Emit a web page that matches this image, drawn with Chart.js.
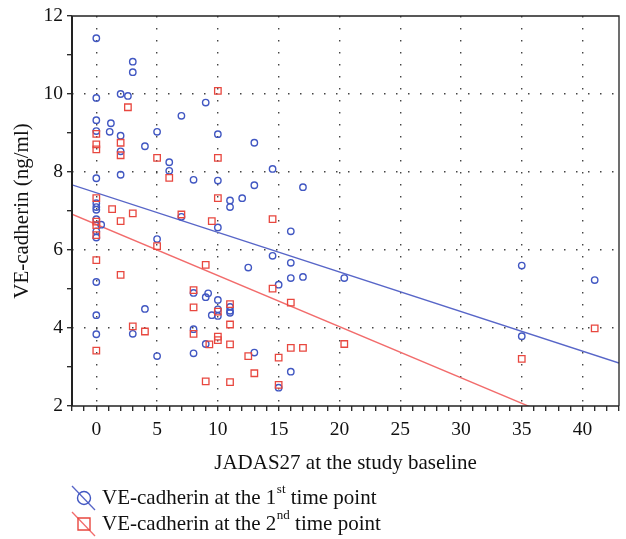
<!DOCTYPE html>
<html>
<head>
<meta charset="utf-8">
<script src="https://cdn.jsdelivr.net/npm/chart.js@4.4.0/dist/chart.umd.min.js"></script>
<style>
  html, body { margin: 0; padding: 0; background: #fff; }
  #wrap { width: 626px; height: 539px; }
</style>
</head>
<body>
<div id="wrap"><canvas id="chart" width="626" height="539"></canvas></div>
<script>
// VE-cadherin at the 1st time point (blue circles)
const t1X = [0, 0, 0, 0, 0, 0, 0, 0, 0, 0, 0, 0, 0, 0,
  0.4, 1.1, 1.2, 2, 2, 2, 2, 2.6, 3, 3, 3, 4, 4, 5, 5, 5, 6, 6, 7, 7,
  8, 8, 8, 8, 9, 9, 9, 9.2, 9.5, 10, 10, 10, 10, 10, 10, 11, 11, 11, 11, 11,
  12, 12.5, 13, 13, 13, 14.5, 14.5, 15, 15, 16, 16, 16, 16, 17, 17, 20.4, 35, 35, 41];
const t1Y = [11.43, 9.90, 9.33, 9.05, 7.84, 7.20, 7.10, 7.03, 6.79, 6.48, 6.32, 5.18, 4.33, 3.84,
  6.65, 9.03, 9.25, 10.0, 8.93, 8.53, 7.93, 9.95, 10.83, 10.56, 3.85, 8.66, 4.49, 9.03, 6.28, 3.28, 8.25, 8.03, 9.44, 6.85,
  7.80, 4.90, 3.97, 3.35, 9.78, 4.79, 3.59, 4.89, 4.33, 8.97, 7.78, 6.58, 4.72, 4.48, 4.31, 7.27, 7.10, 4.54, 4.44, 4.39,
  7.33, 5.55, 8.75, 7.66, 3.37, 8.08, 5.85, 5.11, 2.47, 6.48, 5.67, 5.28, 2.88, 7.61, 5.31, 5.28, 5.60, 3.79, 5.23];

// VE-cadherin at the 2nd time point (red squares)
const t2X = [0, 0, 0, 0, 0, 0, 0, 0, 0,
  1.3, 2, 2, 2, 2, 2.6, 3, 3, 4, 5, 5, 6, 7, 8, 8, 8, 9, 9, 9.3, 9.5,
  10, 10, 10, 10, 10, 10, 11, 11, 11, 11, 12.5, 13, 14.5, 14.5, 15, 15, 16, 16, 17, 20.4, 35, 41];
const t2Y = [8.98, 8.71, 8.58, 7.33, 6.73, 6.64, 6.38, 5.74, 3.42,
  7.05, 8.75, 8.43, 6.74, 5.36, 9.66, 6.94, 4.04, 3.91, 8.36, 6.10, 7.85, 6.91, 4.97, 4.53, 3.85, 5.62, 2.63, 3.58, 6.74,
  10.08, 8.36, 7.33, 4.42, 3.78, 3.69, 4.61, 4.09, 3.58, 2.61, 3.28, 2.84, 6.79, 5.01, 3.24, 2.54, 4.65, 3.49, 3.49, 3.59, 3.21, 3.99];

// fitted lines, end points
const fit1X = [-2, 43];
const fit1Y = [7.67, 3.10];
const fit2X = [-2, 43];
const fit2Y = [6.92, 1.02];

const legendLabels = [
  ['VE-cadherin at the 1', 'st', ' time point'],
  ['VE-cadherin at the 2', 'nd', ' time point']
];

const BLUE = '#4157c2';
const BLUE_LINE = '#5866c8';
const RED = '#e8473f';
const RED_LINE = '#f26c6c';
const FONT = '"Liberation Serif", "DejaVu Serif", serif';

const pts = (xs, ys) => xs.map((x, i) => ({ x: x, y: ys[i] }));

// frame round the plot + legend under the axis title
const framePlugin = {
  id: 'frame',
  afterDraw(chart) {
    const { ctx, chartArea: a } = chart;
    ctx.save();
    ctx.strokeStyle = '#222';
    ctx.lineWidth = 1.3;
    ctx.beginPath();
    ctx.moveTo(a.left, a.top); ctx.lineTo(a.right, a.top); ctx.lineTo(a.right, a.bottom);
    ctx.stroke();
    ctx.lineWidth = 1.6;
    ctx.beginPath();
    ctx.moveTo(a.left - 1, a.bottom); ctx.lineTo(a.right, a.bottom);
    ctx.stroke();
    ctx.lineWidth = 2;
    ctx.beginPath();
    ctx.moveTo(a.left, a.top); ctx.lineTo(a.left, a.bottom);
    ctx.stroke();

    // legend
    const rows = [498, 524];
    rows.forEach((y, i) => {
      const col = i === 0 ? BLUE : RED;
      const lineCol = i === 0 ? BLUE_LINE : RED_LINE;
      ctx.strokeStyle = lineCol;
      ctx.lineWidth = 1.3;
      ctx.beginPath();
      ctx.moveTo(72, y - 12); ctx.lineTo(95, y + 12);
      ctx.stroke();
      ctx.strokeStyle = col;
      ctx.lineWidth = 1.4;
      ctx.beginPath();
      if (i === 0) ctx.arc(84, y, 6.5, 0, Math.PI * 2);
      else ctx.rect(78, y - 6, 12, 12);
      ctx.stroke();

      const [a1, sup, a2] = legendLabels[i];
      ctx.fillStyle = '#111';
      ctx.textBaseline = 'middle';
      ctx.font = '21px ' + FONT;
      let x = 102;
      ctx.fillText(a1, x, y);
      x += ctx.measureText(a1).width + 0.5;
      ctx.font = '13px ' + FONT;
      ctx.fillText(sup, x, y - 8);
      x += ctx.measureText(sup).width;
      ctx.font = '21px ' + FONT;
      ctx.fillText(a2, x, y);
    });
    ctx.restore();
  }
};

new Chart(document.getElementById('chart').getContext('2d'), {
  type: 'scatter',
  data: {
    datasets: [
      {
        label: 'VE-cadherin at the 1st time point',
        data: pts(t1X, t1Y),
        pointStyle: 'circle',
        pointRadius: 3.2,
        borderWidth: 1.4,
        borderColor: BLUE,
        backgroundColor: 'rgba(0,0,0,0)',
        order: 2
      },
      {
        label: 'VE-cadherin at the 2nd time point',
        data: pts(t2X, t2Y),
        pointStyle: 'rect',
        pointRadius: 4.6,
        borderWidth: 1.3,
        borderColor: RED,
        backgroundColor: 'rgba(0,0,0,0)',
        order: 1
      },
      {
        type: 'line',
        label: 'fit 1',
        data: pts(fit1X, fit1Y),
        borderColor: BLUE_LINE,
        borderWidth: 1.4,
        pointRadius: 0,
        fill: false,
        order: 3
      },
      {
        type: 'line',
        label: 'fit 2',
        data: pts(fit2X, fit2Y),
        borderColor: RED_LINE,
        borderWidth: 1.4,
        pointRadius: 0,
        fill: false,
        order: 3
      }
    ]
  },
  options: {
    responsive: false,
    animation: false,
    layout: { padding: { top: 16, right: 4, left: 0, bottom: 63 } },
    plugins: { legend: { display: false }, tooltip: { enabled: false } },
    scales: {
      x: {
        type: 'linear',
        min: -2,
        max: 43,
        afterFit(s) { s.height = 70; },
        afterBuildTicks(s) {
          s.ticks = [];
          for (let v = -2; v <= 43; v++) s.ticks.push({ value: v });
        },
        ticks: {
          autoSkip: false,
          maxRotation: 0,
          padding: 7,
          color: '#111',
          font: { family: FONT, size: 19.5 },
          callback: v => (v % 5 === 0 && v >= 0) ? String(v) : ''
        },
        grid: {
          color: c => (c.tick && c.tick.value % 5 === 0 && c.tick.value >= 0) ? '#444' : 'rgba(0,0,0,0)',
          lineWidth: 1.4,
          tickColor: '#222',
          tickLength: 5,
          tickWidth: 1.3
        },
        border: { display: false, dash: [1.5, 10.5] },
        title: {
          display: true,
          text: 'JADAS27 at the study baseline',
          color: '#111',
          font: { family: FONT, size: 21 },
          padding: { top: 0, bottom: 0 }
        }
      },
      y: {
        min: 2,
        max: 12,
        afterFit(s) { s.width = 72; },
        afterBuildTicks(s) {
          s.ticks = [];
          for (let v = 2; v <= 12; v++) s.ticks.push({ value: v });
        },
        ticks: {
          autoSkip: false,
          padding: 4,
          color: '#111',
          font: { family: FONT, size: 19.5 },
          callback: v => (v % 2 === 0) ? String(v) : ''
        },
        grid: {
          color: c => (c.tick && c.tick.value % 2 === 0 && c.tick.value > 2 && c.tick.value < 12) ? '#444' : 'rgba(0,0,0,0)',
          lineWidth: 1.4,
          tickColor: '#222',
          tickLength: 5,
          tickWidth: 1.3
        },
        border: { display: false, dash: [1.5, 10.5] },
        title: {
          display: true,
          text: 'VE-cadherin (ng/ml)',
          color: '#111',
          font: { family: FONT, size: 21 },
          padding: { top: 10, bottom: 0 }
        }
      }
    }
  },
  plugins: [framePlugin]
});
</script>
</body>
</html>
